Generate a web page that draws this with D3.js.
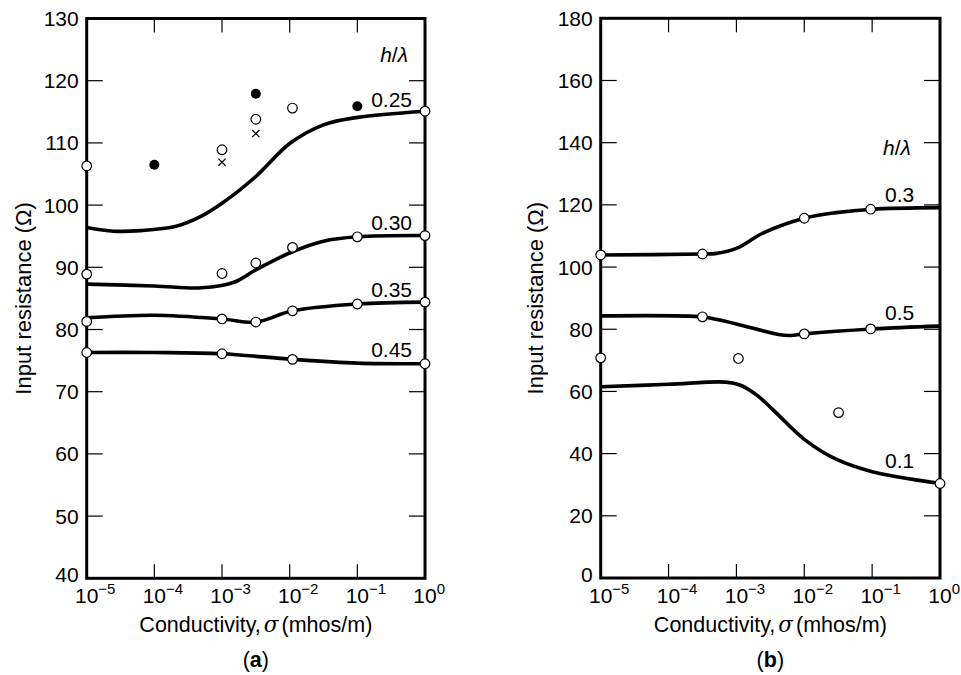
<!DOCTYPE html>
<html><head><meta charset="utf-8">
<script src="https://cdn.jsdelivr.net/npm/d3@7"></script>
<style>body{margin:0;background:#fff}svg{display:block}text{font-family:"Liberation Sans",Arial,sans-serif;fill:#000}</style>
</head><body><svg id="c" width="961" height="675"></svg>
<script>
// ---------- DATA ----------
const xTickExps = [-5, -4, -3, -2, -1, 0];
const yTicksA = [40, 50, 60, 70, 80, 90, 100, 110, 120, 130];
const yTicksB = [0, 20, 40, 60, 80, 100, 120, 140, 160, 180];

// Panel (a) curves: [conductivity, resistance]
const curveA025 = [[1e-5,96.4],[2.5e-5,95.8],[6.3e-5,95.9],[2.1e-4,96.6],[4.7e-4,98.1],[1e-3,100.3],[3.16e-3,104.6],[1e-2,109.9],[3.16e-2,112.9],[1e-1,114.1],[1,115.1]];
const curveA030 = [[1e-5,87.3],[1e-4,87.0],[5e-4,86.7],[1.5e-3,87.6],[3.16e-3,89.6],[1.1e-2,92.5],[3.16e-2,94.2],[1e-1,94.9],[1,95.1]];
const curveA035 = [[1e-5,81.9],[1e-4,82.3],[1e-3,81.7],[3.16e-3,81.2],[1.1e-2,83.0],[1e-1,84.1],[1,84.4]];
const curveA045 = [[1e-5,76.3],[1e-4,76.3],[1e-3,76.1],[1.1e-2,75.2],[1e-1,74.6],[1,74.5]];
const labelsA = ["0.25", "0.30", "0.35", "0.45"];
const labelValsA = [115.8, 96.0, 85.3, 75.6];

const openA = [[1e-5,106.3],[1e-3,108.9],[3.16e-3,113.8],[1.1e-2,115.6],[1,115.1],
  [1e-5,88.9],[1e-3,89.0],[3.16e-3,90.7],[1.1e-2,93.2],[1e-1,94.9],[1,95.1],
  [1e-5,81.3],[1e-3,81.7],[3.16e-3,81.2],[1.1e-2,83.0],[1e-1,84.1],[1,84.4],
  [1e-5,76.3],[1e-3,76.1],[1.1e-2,75.2],[1,74.5]];
const filledA = [[1e-4,106.5],[3.16e-3,117.9],[1e-1,115.9]];
const crossA = [[1e-3,106.9],[3.16e-3,111.5]];

// Panel (b) curves
const curveB03 = [[1e-5,103.9],[3.16e-4,104.2],[5.1e-4,104.4],[1e-3,106.0],[2.5e-3,111.0],[1e-2,115.7],[2.95e-2,117.5],[1e-1,118.6],[1,119.1]];
const curveB05 = [[1e-5,84.3],[3.16e-4,84.0],[5e-4,83.2],[1e-3,81.7],[4.4e-3,78.2],[6.3e-3,78.0],[1e-2,78.5],[1e-1,80.1],[1,81.0]];
const curveB01 = [[1e-5,61.5],[1e-4,62.3],[7e-4,63.0],[1.15e-3,62.0],[2e-3,58.8],[3.5e-3,54.0],[1e-2,44.6],[2.95e-2,38.2],[1e-1,34.2],[1,30.4]];
const labelsB = ["0.3", "0.5", "0.1"];
const labelValsB = [121.0, 83.0, 35.4];

const openB = [[1e-5,103.9],[3.16e-4,104.2],[1e-2,115.7],[9.5e-2,118.6],
  [1e-5,70.8],[3.16e-4,84.0],[1e-2,78.5],[9.5e-2,80.1],
  [1.07e-3,70.6],[3.2e-2,53.2],[1,30.4]];

// ---------- DRAW ----------
const svg = d3.select("#c");
const FS = 21;

function panel(cfg) {
  const x = d3.scaleLog().domain([1e-5, 1]).range([cfg.x0, cfg.x1]);
  const y = d3.scaleLinear().domain(cfg.yDomain).range([cfg.y0, cfg.y1]);
  const g = svg.append("g");
  const tl = 14;

  // ticks (inward, all four sides)
  xTickExps.slice(1, -1).forEach(e => {
    const px = x(Math.pow(10, e));
    g.append("line").attr("x1", px).attr("x2", px).attr("y1", cfg.y0).attr("y2", cfg.y0 - tl).attr("stroke", "#000").attr("stroke-width", 1.2);
    g.append("line").attr("x1", px).attr("x2", px).attr("y1", cfg.y1).attr("y2", cfg.y1 + tl).attr("stroke", "#000").attr("stroke-width", 1.2);
  });
  cfg.yTicks.slice(1, -1).forEach(v => {
    const py = y(v);
    g.append("line").attr("x1", cfg.x0).attr("x2", cfg.x0 + tl + 2).attr("y1", py).attr("y2", py).attr("stroke", "#000").attr("stroke-width", 1.2);
    g.append("line").attr("x1", cfg.x1).attr("x2", cfg.x1 - tl - 2).attr("y1", py).attr("y2", py).attr("stroke", "#000").attr("stroke-width", 1.2);
  });
  // frame
  g.append("rect").attr("x", cfg.x0).attr("y", cfg.y1).attr("width", cfg.x1 - cfg.x0).attr("height", cfg.y0 - cfg.y1)
    .attr("fill", "none").attr("stroke", "#000").attr("stroke-width", 3);

  // y tick labels
  cfg.yTicks.forEach((v, i) => {
    g.append("text").attr("x", cfg.x0 - 8).attr("y", y(v) + 7.5 - (i === 0 ? 4 : 0)).attr("text-anchor", "end")
      .attr("font-size", FS).text(v);
  });
  // x tick labels: "10" centred on tick, exponent hanging right
  xTickExps.forEach(e => {
    const t = g.append("text").attr("x", x(Math.pow(10, e)) - 11.7).attr("y", cfg.y0 + 25).attr("text-anchor", "start").attr("font-size", FS);
    t.append("tspan").text("10");
    t.append("tspan").attr("dy", -9).attr("font-size", 15).text(String(e).replace("-", "\u2212"));
  });
  // axis titles
  const cx = (cfg.x0 + cfg.x1) / 2;
  const xt2 = g.append("text").attr("x", cx).attr("y", cfg.y0 + 54).attr("text-anchor", "middle").attr("font-size", 21.5);
  xt2.append("tspan").text("Conductivity,");
  xt2.append("tspan").attr("font-family", "DejaVu Serif, Liberation Serif, serif").attr("font-style", "italic").attr("dx", 3).text("\u03c3");
  xt2.append("tspan").attr("dx", 3).text("(mhos/m)");
  const pl = g.append("text").attr("x", cx).attr("y", cfg.y0 + 89).attr("text-anchor", "middle").attr("font-size", 21.5);
  pl.append("tspan").text("(");
  pl.append("tspan").attr("font-weight", "bold").text(cfg.tag);
  pl.append("tspan").text(")");
  g.append("text").attr("transform", `translate(${cfg.titleX},${(cfg.y0 + cfg.y1) / 2}) rotate(-90)`)
    .attr("text-anchor", "middle").attr("font-size", 22).text("Input resistance (\u03a9)");

  // curves
  const line = d3.line().x(d => x(d[0])).y(d => y(d[1])).curve(d3.curveCatmullRom.alpha(0.5));
  cfg.curves.forEach(c => {
    g.append("path").attr("d", line(c)).attr("fill", "none").attr("stroke", "#000").attr("stroke-width", 3.6);
  });
  // curve labels
  cfg.labels.forEach((l, i) => {
    g.append("text").attr("x", cfg.labelX).attr("y", y(cfg.labelVals[i])).attr("text-anchor", cfg.labelAnchor)
      .attr("font-size", FS).text(l);
  });
  // h/lambda
  const hl = g.append("text").attr("x", cfg.hlX).attr("y", cfg.hlY).attr("text-anchor", cfg.labelAnchor)
    .attr("font-size", 21).attr("font-family", "DejaVu Serif, Liberation Serif, serif").attr("font-style", "italic");
  hl.append("tspan").text("h");
  hl.append("tspan").attr("font-style", "normal").text("/");
  hl.append("tspan").text("\u03bb");

  // markers
  (cfg.crosses || []).forEach(d => {
    const px = x(d[0]), py = y(d[1]), s = 3.6;
    g.append("path").attr("d", `M${px - s},${py - s}L${px + s},${py + s}M${px - s},${py + s}L${px + s},${py - s}`)
      .attr("stroke", "#000").attr("stroke-width", 1.2);
  });
  cfg.open.forEach(d => {
    g.append("circle").attr("cx", x(d[0])).attr("cy", y(d[1])).attr("r", 4.8).attr("fill", "#fff").attr("stroke", "#000").attr("stroke-width", 1.2);
  });
  (cfg.filled || []).forEach(d => {
    g.append("circle").attr("cx", x(d[0])).attr("cy", y(d[1])).attr("r", 5).attr("fill", "#000");
  });
}

panel({x0: 86.7, x1: 425, y0: 578.3, y1: 18.5, yDomain: [40, 130], yTicks: yTicksA, tag: "a", titleX: 31,
  curves: [curveA025, curveA030, curveA035, curveA045], labels: labelsA, labelVals: labelValsA,
  labelX: 412, labelAnchor: "end", hlX: 408, hlY: 62,
  open: openA, filled: filledA, crosses: crossA});

panel({x0: 600.7, x1: 940, y0: 578, y1: 18.3, yDomain: [0, 180], yTicks: yTicksB, tag: "b", titleX: 543,
  curves: [curveB03, curveB05, curveB01], labels: labelsB, labelVals: labelValsB,
  labelX: 885, labelAnchor: "start", hlX: 883, hlY: 155,
  open: openB});
</script></body></html>
